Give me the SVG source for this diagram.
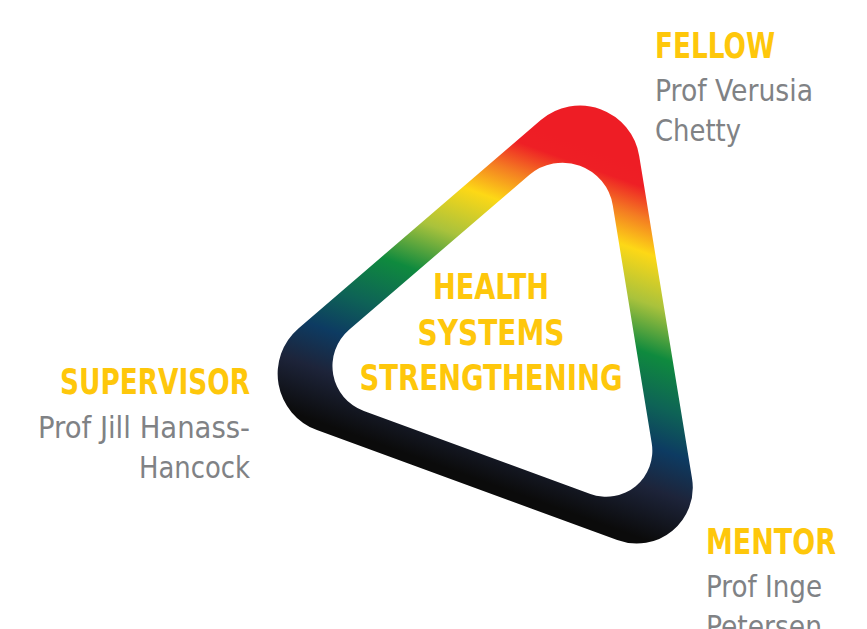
<svg xmlns="http://www.w3.org/2000/svg" width="867" height="629" viewBox="0 0 867 629">
<defs>
<linearGradient id="ring" gradientUnits="userSpaceOnUse" x1="550.4" y1="134.5" x2="428.4" y2="473.2">
<stop offset="0" stop-color="#ee1d25"/>
<stop offset="0.05" stop-color="#ee1f25"/>
<stop offset="0.13" stop-color="#f47c22"/>
<stop offset="0.22" stop-color="#fdd816"/>
<stop offset="0.35" stop-color="#a9c23c"/>
<stop offset="0.48" stop-color="#0f8a3e"/>
<stop offset="0.61" stop-color="#0e6356"/>
<stop offset="0.72" stop-color="#0d3b62"/>
<stop offset="0.83" stop-color="#1d243a"/>
<stop offset="0.97" stop-color="#0b0b0b"/>
</linearGradient>
<style>
.h{font-family:"Liberation Sans Narrow","DejaVu Sans Condensed","Liberation Sans",sans-serif;font-weight:bold;fill:#fec70b;}
.n{font-family:"Liberation Sans Narrow","DejaVu Sans Condensed","Liberation Sans",sans-serif;fill:#808285;}
</style>
</defs>
<rect width="867" height="629" fill="#ffffff"/>
<g id="triangle">
<path fill="url(#ring)" fill-rule="evenodd" d="M639.2,155.9 L692,478.2 A56,56 0 0 1 617.2,540 L316.9,430.1 A60,60 0 0 1 298.4,328.4 L540.8,120.1 A60,60 0 0 1 639.2,155.9 Z M612.8,205.4 L651.7,443.1 A46,46 0 0 1 590.4,493.9 L363.9,411.1 A48,48 0 0 1 349.1,329.7 L529.2,175 A51,51 0 0 1 612.8,205.4 Z"/>
</g>
<g id="center-label">
<text class="h" font-size="36" x="491" y="299" text-anchor="middle" textLength="116" lengthAdjust="spacingAndGlyphs">HEALTH</text>
<text class="h" font-size="36" x="491" y="345" text-anchor="middle" textLength="147" lengthAdjust="spacingAndGlyphs">SYSTEMS</text>
<text class="h" font-size="36" x="491" y="390" text-anchor="middle" textLength="263" lengthAdjust="spacingAndGlyphs">STRENGTHENING</text>
</g>
<g id="fellow">
<text class="h" font-size="35" x="655" y="58" textLength="120" lengthAdjust="spacingAndGlyphs">FELLOW</text>
<text class="n" font-size="30" x="655" y="101" textLength="158" lengthAdjust="spacingAndGlyphs">Prof Verusia</text>
<text class="n" font-size="30" x="655" y="141" textLength="86" lengthAdjust="spacingAndGlyphs">Chetty</text>
</g>
<g id="supervisor">
<text class="h" font-size="35" x="250" y="394" text-anchor="end" textLength="190" lengthAdjust="spacingAndGlyphs">SUPERVISOR</text>
<text class="n" font-size="30" x="250" y="438" text-anchor="end" textLength="212" lengthAdjust="spacingAndGlyphs">Prof Jill Hanass-</text>
<text class="n" font-size="30" x="250" y="478" text-anchor="end" textLength="111" lengthAdjust="spacingAndGlyphs">Hancock</text>
</g>
<g id="mentor">
<text class="h" font-size="35" x="706" y="554" textLength="130" lengthAdjust="spacingAndGlyphs">MENTOR</text>
<text class="n" font-size="30" x="706" y="597" textLength="116" lengthAdjust="spacingAndGlyphs">Prof Inge</text>
<text class="n" font-size="30" x="706" y="637" textLength="116" lengthAdjust="spacingAndGlyphs">Petersen</text>
</g>
<g id="connectors"/>
</svg>
